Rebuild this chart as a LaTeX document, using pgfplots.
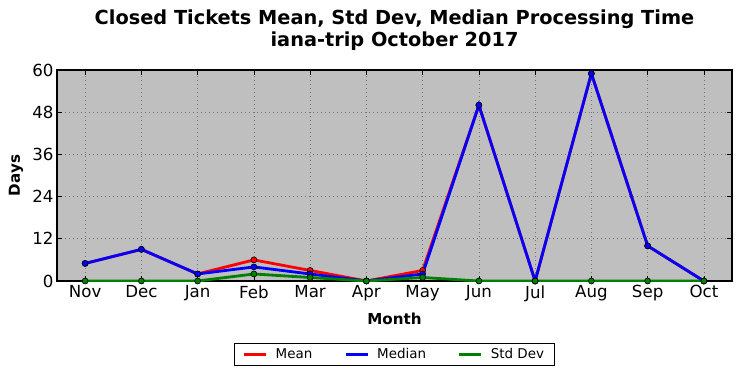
\documentclass[border=0pt]{standalone}
\usepackage{fontspec}
\setmainfont{DejaVu Sans}
\usepackage{pgfplots}
\pgfplotsset{compat=1.18}
\definecolor{bg}{RGB}{191,191,191}
\definecolor{mred}{RGB}{255,0,0}
\definecolor{mblue}{RGB}{0,0,255}
\definecolor{mgreen}{RGB}{0,128,0}
\begin{document}
\begin{tikzpicture}[x=1bp,y=1bp]
\path[use as bounding box] (-57,-97) rectangle (684,281);
\begin{axis}[
  at={(0,0)}, anchor=south west, scale only axis,
  width=675bp, height=211bp,
  xmin=-0.5, xmax=11.5, ymin=0, ymax=60,
  xtick={0,...,11},
  xticklabels={Nov,Dec,Jan,Feb,Mar,Apr,May,Jun,Jul,Aug,Sep,Oct},
  ytick={0,12,24,36,48,60},
  axis background/.style={fill=bg},
  grid=major,
  major grid style={black!55, dash pattern=on 1bp off 3bp, line width=0.7bp},
  tick align=inside, major tick length=5bp,
  tick style={black, line width=0.7bp},
  tick label style={font=\fontsize{16.7}{19}\selectfont},
  xticklabel style={yshift=-1bp},
  /pgf/number format/assume math mode=true,
  axis line style={black, line width=1.1bp},
  every axis plot/.append style={line width=2.8bp, mark=*, mark size=3bp},
  legend columns=3,
  legend style={at={(axis description cs:0.5,-0.2938)}, anchor=north,
    draw=black, line width=1bp, fill=white,
    font=\fontsize{13.5}{15}\selectfont, inner xsep=8bp, inner ysep=3bp,
    /tikz/every even column/.append style={column sep=30bp}},
  legend image code/.code={\draw[#1, line width=2.8bp] (0bp,0bp) -- (22bp,0bp); \path (28bp,0bp);},
]
\addplot[mred, mark options={fill=mred, draw=black, line width=0.6bp}] coordinates {
(0,5) (1,9) (2,2) (3,6) (4,3) (5,0) (6,3) (7,50) (8,0) (9,59) (10,10) (11,0)};
\addlegendentry{Mean}
\addplot[mblue, mark options={fill=mblue, draw=black, line width=0.6bp}] coordinates {
(0,5) (1,9) (2,2) (3,4) (4,2) (5,0) (6,2) (7,50) (8,0) (9,59) (10,10) (11,0)};
\addlegendentry{Median}
\addplot[mgreen, mark options={fill=mgreen, draw=black, line width=0.6bp}] coordinates {
(0,0) (1,0) (2,0) (3,2) (4,1) (5,0) (6,1) (7,0) (8,0) (9,0) (10,0) (11,0)};
\addlegendentry{Std Dev}
\end{axis}
\node[font=\fontsize{15.2}{17}\selectfont\bfseries] at (337.5,-38) {Month};
\node[font=\fontsize{15.2}{17}\selectfont\bfseries, rotate=90] at (-41,105.5) {Days};
\node[font=\fontsize{19.4}{22}\selectfont\bfseries] at (337.5,262) {Closed Tickets Mean, Std Dev, Median Processing Time};
\node[font=\fontsize{19.4}{22}\selectfont\bfseries] at (337.5,240) {iana-trip October 2017};
\end{tikzpicture}
\end{document}
